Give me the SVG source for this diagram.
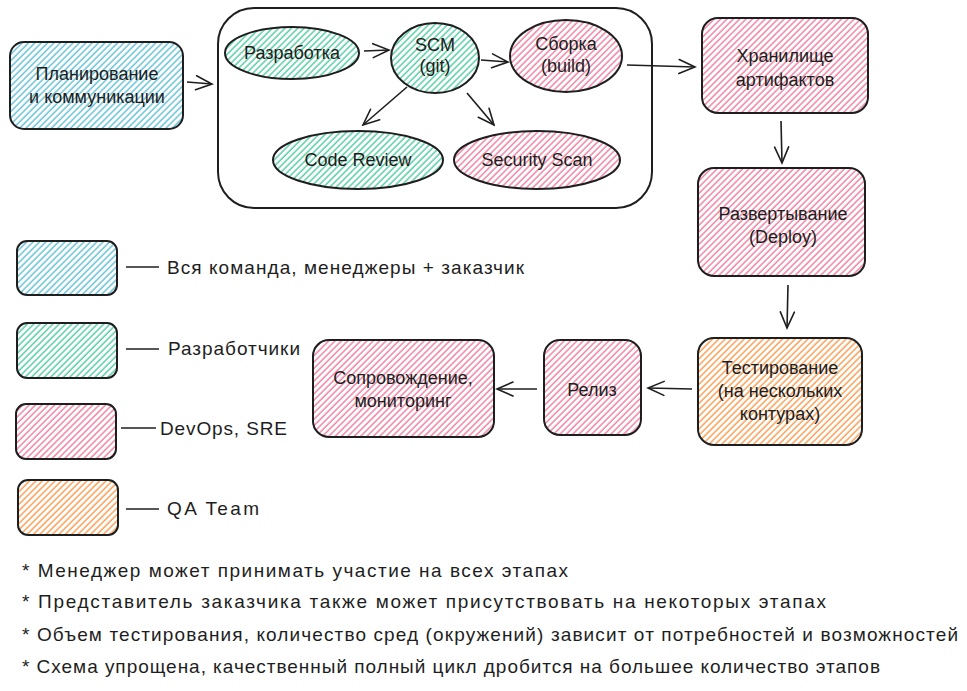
<svg xmlns="http://www.w3.org/2000/svg" width="967" height="691" viewBox="0 0 967 691">
<defs>
<pattern id="hb" patternUnits="userSpaceOnUse" width="4.5" height="4.5" patternTransform="rotate(45)"><line x1="1" y1="0" x2="1" y2="4.5" stroke="#5fbfd6" stroke-width="1.4"/></pattern>
<pattern id="hg" patternUnits="userSpaceOnUse" width="4.5" height="4.5" patternTransform="rotate(45)"><line x1="1" y1="0" x2="1" y2="4.5" stroke="#4fcb9e" stroke-width="1.4"/></pattern>
<pattern id="hp" patternUnits="userSpaceOnUse" width="4.5" height="4.5" patternTransform="rotate(45)"><line x1="1" y1="0" x2="1" y2="4.5" stroke="#ec7c9e" stroke-width="1.4"/></pattern>
<pattern id="ho" patternUnits="userSpaceOnUse" width="4.5" height="4.5" patternTransform="rotate(45)"><line x1="1" y1="0" x2="1" y2="4.5" stroke="#f79a4c" stroke-width="1.4"/></pattern>
<marker id="ar" viewBox="0 0 20 20" refX="18" refY="10" markerWidth="20" markerHeight="20" markerUnits="userSpaceOnUse" orient="auto"><path d="M2 3 L18 10 L2 17" fill="none" stroke="#1e1e1e" stroke-width="1.6" stroke-linecap="round"/></marker>
</defs>
<style>
.b{stroke:#1e1e1e;stroke-width:2}
.blue{fill:url(#hb)}.green{fill:url(#hg)}.pink{fill:url(#hp)}.orange{fill:url(#ho)}
text{font-family:"Liberation Sans","Noto Sans",sans-serif;fill:#1e1e1e;font-size:18px}
.c{text-anchor:middle}
.n{font-size:19px}
.e{fill:none;stroke:#1e1e1e;stroke-width:1.6;marker-end:url(#ar)}
.l{fill:none;stroke:#1e1e1e;stroke-width:1.6}
</style>
<rect width="967" height="691" fill="#ffffff"/>

<g id="container"><rect x="218" y="8" width="434" height="200" rx="36" fill="none" class="b"/></g>

<g id="plan"><rect x="10" y="42" width="173" height="87" rx="14" class="b blue"/>
<text class="c" x="97" y="80">Планирование</text><text class="c" x="97" y="103">и коммуникации</text></g>

<g id="dev"><ellipse cx="292" cy="53" rx="67" ry="26" class="b green"/><text class="c" x="292" y="59">Разработка</text></g>
<g id="scm"><ellipse cx="435" cy="58" rx="44" ry="35" class="b green"/><text class="c" x="435" y="51">SCM</text><text class="c" x="435" y="72">(git)</text></g>
<g id="build"><ellipse cx="566" cy="56" rx="56" ry="36" class="b pink"/><text class="c" x="566" y="50">Сборка</text><text class="c" x="566" y="72">(build)</text></g>
<g id="review"><ellipse cx="358" cy="160" rx="85" ry="29" class="b green"/><text class="c" x="358" y="166">Code Review</text></g>
<g id="security"><ellipse cx="537" cy="160" rx="83" ry="29" class="b pink"/><text class="c" x="537" y="166">Security Scan</text></g>

<g id="storage"><rect x="702" y="18" width="166" height="95" rx="16" class="b pink"/><text class="c" x="785" y="62">Хранилище</text><text class="c" x="785" y="86">артифактов</text></g>
<g id="deploy"><rect x="698" y="168" width="167" height="108" rx="16" class="b pink"/><text class="c" x="783" y="220">Развертывание</text><text class="c" x="783" y="243">(Deploy)</text></g>
<g id="testing"><rect x="698" y="338" width="164" height="107" rx="16" class="b orange"/><text class="c" x="780" y="374">Тестирование</text><text class="c" x="780" y="397">(на нескольких</text><text class="c" x="780" y="420">контурах)</text></g>
<g id="release"><rect x="544" y="340" width="97" height="95" rx="16" class="b pink"/><text class="c" x="592" y="396">Релиз</text></g>
<g id="support"><rect x="313" y="340" width="181" height="97" rx="16" class="b pink"/><text class="c" x="403" y="384">Сопровождение,</text><text class="c" x="403" y="407">мониторинг</text></g>

<g id="connectors">
<line class="e" x1="187" y1="82" x2="212" y2="84"/>
<line class="e" x1="364" y1="51" x2="389" y2="50"/>
<line class="e" x1="481" y1="60" x2="508" y2="62"/>
<line class="e" x1="407" y1="87" x2="363" y2="125"/>
<line class="e" x1="467" y1="93" x2="494" y2="125"/>
<line class="e" x1="627" y1="65" x2="695" y2="67"/>
<line class="e" x1="781" y1="121" x2="782" y2="163"/>
<line class="e" x1="788" y1="285" x2="787" y2="328"/>
<line class="e" x1="692" y1="389" x2="648" y2="388"/>
<line class="e" x1="537" y1="389" x2="497" y2="389"/>
</g>

<g id="legend">
<rect x="17" y="241" width="100" height="54" rx="10" class="b blue"/>
<rect x="17" y="323" width="100" height="55" rx="10" class="b green"/>
<rect x="16" y="404" width="100" height="55" rx="10" class="b pink"/>
<rect x="18" y="480" width="100" height="55" rx="10" class="b orange"/>
<line class="l" x1="126" y1="267" x2="159" y2="267"/>
<line class="l" x1="126" y1="349" x2="159" y2="349"/>
<line class="l" x1="121" y1="428" x2="156" y2="428"/>
<line class="l" x1="126" y1="509" x2="159" y2="509"/>
<text class="n" x="167" y="274" textLength="357">Вся команда, менеджеры + заказчик</text>
<text class="n" x="168" y="355" textLength="132">Разработчики</text>
<text class="n" x="160" y="435" textLength="127">DevOps, SRE</text>
<text class="n" x="167" y="515" textLength="92">QA Team</text>
</g>

<g id="notes">
<text class="n" x="22" y="577" textLength="546">* Менеджер может принимать участие на всех этапах</text>
<text class="n" x="22" y="608" textLength="804">* Представитель заказчика также может присутствовать на некоторых этапах</text>
<text class="n" x="22" y="641" textLength="936">* Объем тестирования, количество сред (окружений) зависит от потребностей и возможностей</text>
<text class="n" x="22" y="673" textLength="858">* Схема упрощена, качественный полный цикл дробится на большее количество этапов</text>
</g>
</svg>
